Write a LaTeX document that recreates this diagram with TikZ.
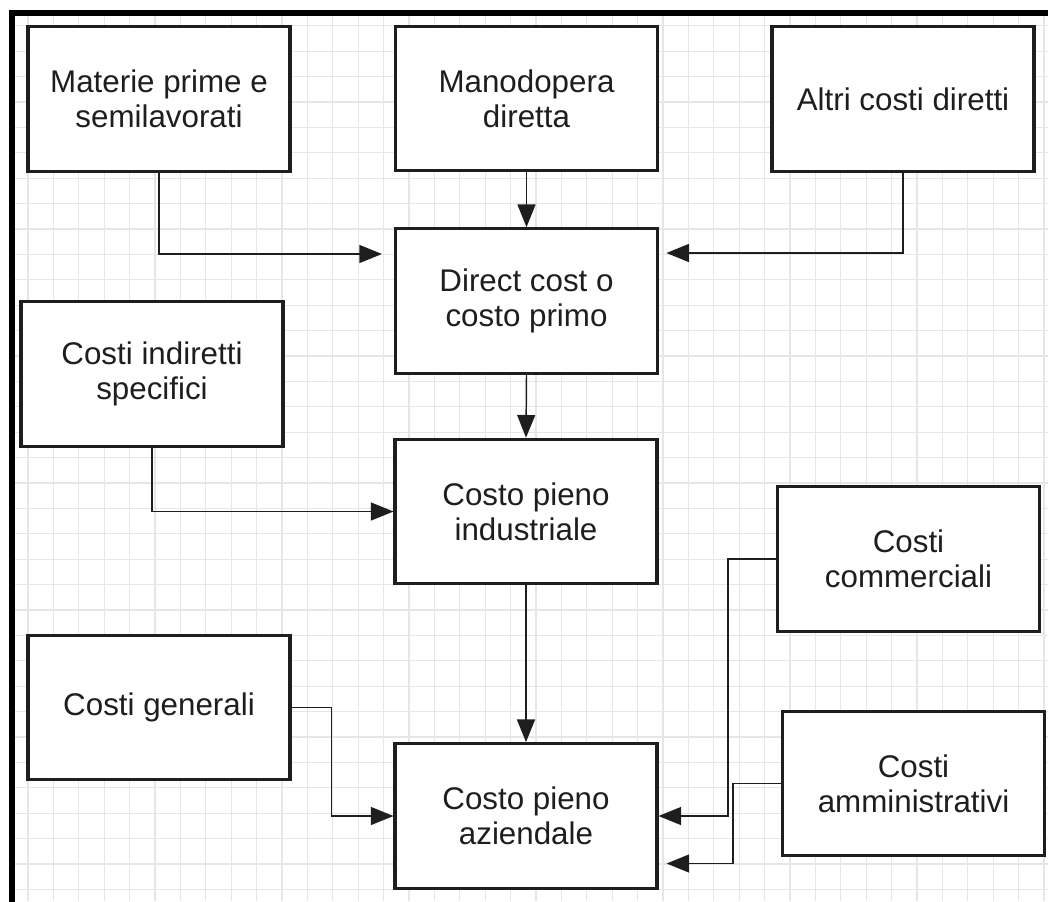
\documentclass[tikz,border=0pt]{standalone}
\usepackage{fontspec}
\setmainfont{Liberation Sans}
\usetikzlibrary{arrows.meta,calc}
\definecolor{gridc}{HTML}{E6E6E6}
\definecolor{ink}{HTML}{1E1E1E}
\tikzset{
  box/.style={draw=ink, line width=2.3pt, fill=white, rectangle,
    minimum width=196.5pt, minimum height=108.5pt, inner sep=0pt,
    align=center, text=ink, font=\fontsize{23.5}{26.5}\selectfont},
  conn/.style={draw=ink, line width=1.1pt,
    -{Triangle[length=17pt,width=13.5pt]}},
  gridline/.style={draw=gridc, line width=0.9pt},
  frame/.style={draw=black, line width=3.8pt}
}
\begin{document}
\begin{tikzpicture}[x=0.75pt,y=-0.75pt]
\useasboundingbox (0,0) rectangle (1048,901);
\clip (0,0) rectangle (1048,901);
% grid
\foreach \i in {1,...,41} \draw[gridline] ({2.6+25.4*\i},13) -- ({2.6+25.4*\i},901);
\foreach \j in {1,...,35} \draw[gridline] (12,{0.4+25.4*\j}) -- (1048,{0.4+25.4*\j});
% frame
\draw[frame] (12,905) -- (12,13) -- (1052,13);
% boxes
\node[box] (mat) at (159,99) {Materie prime e\\semilavorati};
\node[box] (man) at (526.5,98.5) {Manodopera\\diretta};
\node[box] (alt) at (903,99) {Altri costi diretti};
\node[box] (dir) at (526.5,301) {Direct cost o\\costo primo};
\node[box] (ind) at (152,374) {Costi indiretti\\specifici};
\node[box] (cpi) at (526,511.5) {Costo pieno\\industriale};
\node[box] (com) at (908.5,559) {Costi\\commerciali};
\node[box] (gen) at (159,707.5) {Costi generali};
\node[box] (cpa) at (526,816) {Costo pieno\\aziendale};
\node[box] (amm) at (913.5,783.5) {Costi\\amministrativi};
% connectors
\draw[conn, shorten >=9pt] (mat.south) |- ($(dir.west)+(0,-47)$);
\draw[conn] (man.south) -- (dir.north);
\draw[conn, shorten >=5.5pt] (alt.south) |- ($(dir.east)+(0,-48)$);
\draw[conn] (dir.south) -- (cpi.north);
\draw[conn] (ind.south) |- (cpi.west);
\draw[conn] (cpi.south) -- (cpa.north);
\draw[conn] (gen.east) -- ++(40,0) |- (cpa.west);
\draw[conn] (com.west) -- ++(-48,0) |- (cpa.east);
\draw[conn, shorten >=6pt] (amm.west) -- ++(-48,0) |- ($(cpa.east)+(0,47.5)$);
\end{tikzpicture}
\end{document}
